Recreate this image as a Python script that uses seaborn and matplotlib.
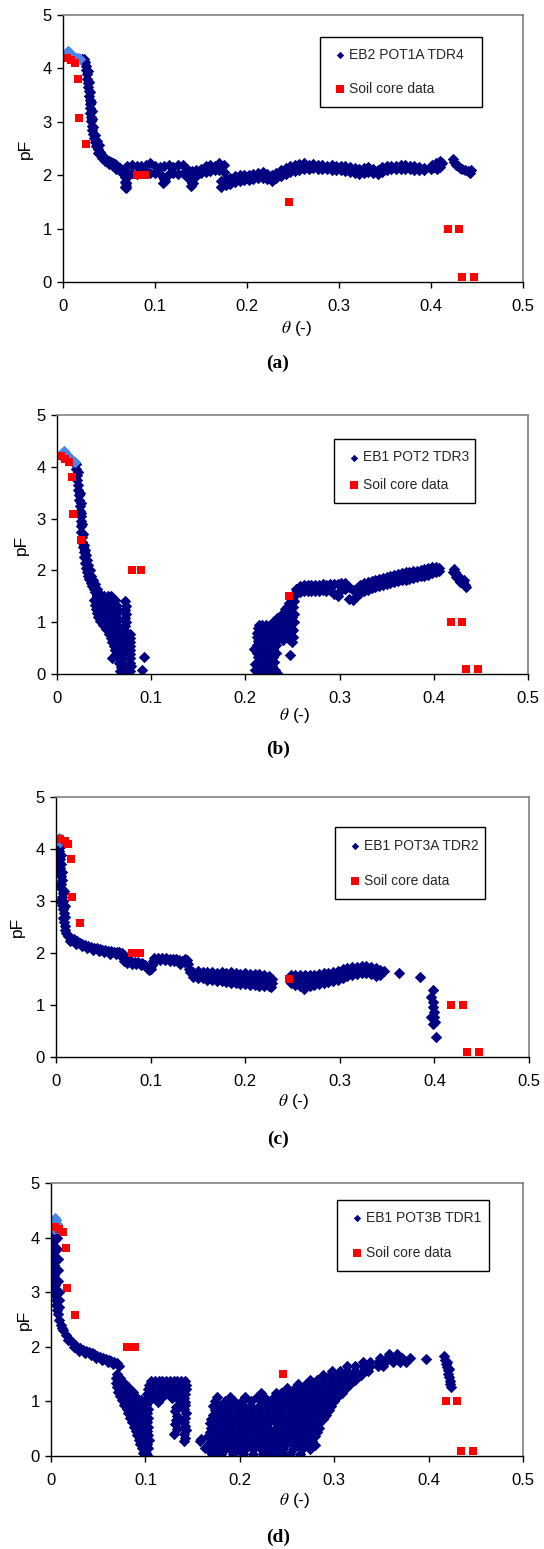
import matplotlib
matplotlib.use("Agg")
import matplotlib.pyplot as plt
import pandas as pd
import seaborn as sns

sns.set_theme(style="white")
plt.rcParams["font.family"] = ["Liberation Sans", "DejaVu Sans"]
plt.rcParams["mathtext.fontset"] = "stix"

# ---------------- shared values ----------------
x_ticks = [0, 0.1, 0.2, 0.3, 0.4, 0.5]
x_tick_labels = ["0", "0.1", "0.2", "0.3", "0.4", "0.5"]
y_ticks = [0, 1, 2, 3, 4, 5]
captions = ["(a)", "(b)", "(c)", "(d)"]
series_names = ["EB2 POT1A TDR4", "EB1 POT2 TDR3", "EB1 POT3A TDR2", "EB1 POT3B TDR1"]
soil_label = "Soil core data"

soil_theta = [0.004, 0.009, 0.013, 0.016, 0.017, 0.025, 0.080, 0.089, 0.246, 0.418, 0.430, 0.434, 0.447]
soil_pF = [4.20, 4.16, 4.10, 3.81, 3.08, 2.58, 2.00, 2.00, 1.50, 1.00, 1.00, 0.10, 0.10]

# ---------------- panel (a) ----------------
a_light = [(0.002, 4.25), (0.004, 4.30), (0.005, 4.33), (0.006, 4.31), (0.008, 4.27), (0.010, 4.24),
           (0.012, 4.22), (0.014, 4.20), (0.016, 4.19), (0.018, 4.18)]
a_knee = [(0.019, 4.17), (0.021, 4.18), (0.023, 4.17), (0.024, 4.12), (0.025, 4.05), (0.025, 3.97),
          (0.026, 3.89), (0.026, 3.81), (0.027, 3.73), (0.027, 3.65), (0.028, 3.57), (0.028, 3.49),
          (0.029, 3.41), (0.029, 3.33), (0.029, 3.25), (0.029, 3.17), (0.030, 3.09), (0.030, 3.01),
          (0.031, 2.93), (0.032, 2.85), (0.033, 2.77), (0.034, 2.69), (0.035, 2.62), (0.036, 2.55),
          (0.038, 2.49), (0.040, 2.43), (0.042, 2.38), (0.044, 2.34), (0.046, 2.31), (0.048, 2.29),
          (0.050, 2.27), (0.052, 2.25), (0.054, 2.23), (0.056, 2.21), (0.058, 2.19), (0.060, 2.16),
          (0.062, 2.13), (0.064, 2.10), (0.066, 2.04), (0.067, 1.96), (0.067, 1.88), (0.068, 1.80),
          (0.069, 1.76), (0.069, 1.86), (0.070, 1.96),
          (0.027, 3.95), (0.028, 3.75), (0.029, 3.55), (0.030, 3.38), (0.031, 3.20), (0.032, 3.05),
          (0.033, 2.90), (0.035, 2.76), (0.037, 2.64), (0.039, 2.56), (0.038, 2.42), (0.042, 2.33),
          (0.046, 2.26), (0.050, 2.21), (0.054, 2.17), (0.058, 2.12), (0.062, 2.07),
          (0.067, 1.78), (0.068, 1.86), (0.109, 1.85), (0.111, 1.90), (0.139, 1.79), (0.141, 1.85)]
a_seg1_theta = [0.070, 0.075, 0.080, 0.085, 0.090, 0.095, 0.100, 0.105, 0.110, 0.115, 0.120,
                0.125, 0.130, 0.135, 0.140, 0.145, 0.150, 0.155, 0.160, 0.165, 0.170, 0.175]
a_seg1_top = [2.18, 2.20, 2.18, 2.17, 2.20, 2.22, 2.17, 2.15, 2.18, 2.20, 2.15,
              2.19, 2.20, 2.12, 2.08, 2.10, 2.12, 2.17, 2.20, 2.18, 2.22, 2.20]
a_seg1_bot = [2.06, 2.04, 2.02, 2.04, 2.06, 2.05, 2.04, 2.02, 1.92, 2.02, 2.04,
              2.02, 2.05, 1.96, 1.86, 1.98, 2.04, 2.06, 2.08, 2.09, 2.10, 2.06]
a_seg2_theta = [0.172, 0.177, 0.182, 0.187, 0.192, 0.197, 0.202, 0.207,
                0.212, 0.217, 0.222, 0.227, 0.232, 0.237, 0.242, 0.247]
a_seg2_top = [1.90, 1.93, 1.95, 1.98, 2.00, 2.01, 2.00, 2.03, 2.05, 2.06, 2.03, 2.01, 2.05, 2.10, 2.13, 2.17]
a_seg2_bot = [1.78, 1.81, 1.84, 1.87, 1.90, 1.91, 1.91, 1.93, 1.95, 1.95, 1.92, 1.90, 1.94, 1.98, 2.03, 2.06]
a_seg3_theta = [0.252, 0.257, 0.262, 0.267, 0.272, 0.277, 0.282, 0.287, 0.292, 0.297, 0.302, 0.307,
                0.312, 0.317, 0.322, 0.327, 0.332, 0.337, 0.342, 0.347, 0.352, 0.357, 0.362, 0.367,
                0.372, 0.377, 0.382, 0.387, 0.392]
a_seg3_top = [2.19, 2.21, 2.22, 2.20, 2.21, 2.19, 2.20, 2.18, 2.19, 2.17, 2.18, 2.17, 2.15, 2.13, 2.12,
              2.14, 2.15, 2.12, 2.10, 2.15, 2.17, 2.18, 2.18, 2.19, 2.20, 2.18, 2.18, 2.16, 2.14]
a_seg3_bot = [2.07, 2.09, 2.11, 2.12, 2.13, 2.12, 2.12, 2.11, 2.10, 2.10, 2.09, 2.08, 2.06, 2.05, 2.03,
              2.05, 2.06, 2.04, 2.02, 2.06, 2.10, 2.11, 2.12, 2.12, 2.12, 2.11, 2.10, 2.09, 2.09]
a_tail = [(0.400, 2.12), (0.401, 2.20), (0.403, 2.15), (0.405, 2.23), (0.406, 2.12), (0.408, 2.20),
          (0.410, 2.27), (0.410, 2.15), (0.412, 2.22), (0.424, 2.30), (0.425, 2.25), (0.427, 2.20),
          (0.429, 2.17), (0.431, 2.14), (0.434, 2.12), (0.437, 2.10), (0.440, 2.07), (0.442, 2.05),
          (0.443, 2.09)]

# ---------------- panel (b) ----------------
b_light = [(0.003, 4.22), (0.005, 4.27), (0.007, 4.30), (0.009, 4.27), (0.011, 4.22), (0.013, 4.18),
           (0.015, 4.15), (0.017, 4.12), (0.019, 4.10)]
b_drop = [(0.018, 4.08), (0.020, 4.05), (0.020, 3.95), (0.021, 3.85), (0.021, 3.75), (0.022, 3.65),
          (0.022, 3.55), (0.023, 3.45), (0.023, 3.35), (0.024, 3.25), (0.024, 3.15), (0.025, 3.05),
          (0.025, 2.95), (0.026, 2.85), (0.026, 2.75), (0.027, 2.65), (0.027, 2.55), (0.028, 2.45),
          (0.029, 2.35), (0.029, 2.25), (0.030, 2.15), (0.031, 2.05), (0.032, 1.97), (0.033, 1.90),
          (0.034, 1.83), (0.036, 1.76), (0.037, 1.70), (0.039, 1.64), (0.040, 1.58), (0.042, 1.52),
          (0.022, 3.90), (0.024, 3.50), (0.025, 3.30), (0.026, 3.10), (0.027, 2.90), (0.028, 2.70),
          (0.029, 2.50), (0.030, 2.40), (0.031, 2.30), (0.032, 2.20), (0.033, 2.10), (0.035, 2.00),
          (0.036, 1.90), (0.038, 1.82), (0.040, 1.74), (0.042, 1.65), (0.044, 1.58)]
b_blob_pF = [1.50, 1.42, 1.34, 1.26, 1.18, 1.10, 1.02, 0.94, 0.86, 0.78, 0.70, 0.62, 0.54, 0.46,
             0.38, 0.30, 0.22, 0.14, 0.05]
b_blob_theta = [
    [0.042, 0.046, 0.050, 0.054, 0.057],
    [0.039, 0.043, 0.047, 0.051, 0.055, 0.059, 0.062],
    [0.040, 0.044, 0.048, 0.052, 0.056, 0.060, 0.063],
    [0.041, 0.045, 0.049, 0.053, 0.057, 0.061, 0.064],
    [0.042, 0.046, 0.050, 0.054, 0.058, 0.062, 0.064],
    [0.044, 0.048, 0.052, 0.056, 0.060, 0.063],
    [0.046, 0.050, 0.054, 0.058, 0.062, 0.064],
    [0.049, 0.053, 0.057, 0.061, 0.064],
    [0.052, 0.056, 0.060, 0.063],
    [0.055, 0.059, 0.063, 0.066],
    [0.057, 0.061, 0.065, 0.068],
    [0.058, 0.062, 0.066, 0.069],
    [0.060, 0.064, 0.068],
    [0.062, 0.066, 0.069],
    [0.063, 0.067],
    [0.058, 0.065, 0.068],
    [0.066, 0.069],
    [0.068],
    [0.067]]
b_cols = [(0.072, 1.40), (0.073, 1.32), (0.072, 1.24), (0.073, 1.16), (0.072, 1.08), (0.073, 1.00),
          (0.072, 0.92), (0.071, 0.84), (0.072, 0.76), (0.071, 0.68), (0.072, 0.60), (0.071, 0.50),
          (0.070, 0.40), (0.070, 0.30), (0.069, 0.20), (0.070, 0.10), (0.069, 0.02),
          (0.078, 0.78), (0.078, 0.70), (0.078, 0.62), (0.077, 0.54), (0.078, 0.46), (0.078, 0.38),
          (0.077, 0.30), (0.078, 0.22), (0.079, 0.15), (0.078, 0.06),
          (0.092, 0.33), (0.090, 0.08), (0.066, 0.32)]
b_cloud_pF = [0.95, 0.88, 0.80, 0.72, 0.64, 0.56, 0.48, 0.40, 0.32, 0.24, 0.16, 0.08, 0.02]
b_cloud_theta = [
    [0.214, 0.218, 0.222, 0.226],
    [0.213, 0.217, 0.221, 0.225, 0.229, 0.233],
    [0.212, 0.216, 0.220, 0.224, 0.228, 0.232, 0.236],
    [0.212, 0.216, 0.220, 0.224, 0.228, 0.232, 0.236],
    [0.213, 0.217, 0.221, 0.225, 0.229, 0.233],
    [0.212, 0.216, 0.220, 0.224, 0.228, 0.232],
    [0.213, 0.217, 0.221, 0.225, 0.229],
    [0.212, 0.216, 0.220, 0.224, 0.228, 0.232],
    [0.213, 0.217, 0.221, 0.225, 0.229],
    [0.214, 0.218, 0.222, 0.226, 0.230],
    [0.212, 0.216, 0.220, 0.224, 0.228],
    [0.213, 0.218, 0.222, 0.227, 0.231],
    [0.220, 0.226, 0.234]]
b_band = [(0.209, 0.49), (0.210, 0.20), (0.210, 0.07), (0.230, 1.02), (0.234, 1.08), (0.238, 1.12),
          (0.240, 1.18), (0.242, 1.25), (0.244, 1.30), (0.246, 1.38), (0.248, 1.45), (0.250, 1.52),
          (0.248, 1.20), (0.251, 1.30), (0.252, 1.40), (0.245, 1.10), (0.249, 1.10), (0.252, 1.15),
          (0.245, 1.00), (0.249, 0.98), (0.252, 1.00), (0.244, 0.90), (0.248, 0.88), (0.251, 0.85),
          (0.243, 0.80), (0.247, 0.78), (0.250, 0.72), (0.246, 0.68), (0.249, 0.62), (0.247, 0.36),
          (0.238, 0.95), (0.240, 0.85), (0.239, 1.02), (0.241, 0.75), (0.240, 0.65)]
b_rib_theta = [0.254, 0.258, 0.262, 0.266, 0.270, 0.274, 0.278, 0.282, 0.286, 0.290, 0.294, 0.298,
               0.302, 0.306, 0.310, 0.314, 0.318, 0.322, 0.326, 0.330, 0.334, 0.338, 0.342, 0.346,
               0.350, 0.354, 0.358, 0.362, 0.366, 0.370, 0.374, 0.378, 0.382, 0.386, 0.390, 0.394,
               0.398, 0.402, 0.405]
b_rib_top = [1.65, 1.70, 1.72, 1.71, 1.72, 1.71, 1.72, 1.73, 1.72, 1.74, 1.73, 1.74, 1.75, 1.76, 1.68,
             1.62, 1.66, 1.72, 1.76, 1.78, 1.80, 1.82, 1.84, 1.86, 1.88, 1.90, 1.92, 1.94, 1.95, 1.96,
             1.97, 1.98, 1.99, 2.00, 2.02, 2.04, 2.06, 2.07, 2.05]
b_rib_bot = [1.55, 1.58, 1.60, 1.60, 1.61, 1.60, 1.61, 1.62, 1.60, 1.62, 1.55, 1.50, 1.63, 1.64, 1.44,
             1.42, 1.50, 1.56, 1.60, 1.63, 1.66, 1.68, 1.70, 1.72, 1.74, 1.76, 1.78, 1.80, 1.81, 1.82,
             1.84, 1.86, 1.87, 1.89, 1.90, 1.92, 1.95, 1.97, 1.99]
b_blob2 = [(0.420, 1.97), (0.421, 2.02), (0.423, 1.97), (0.424, 1.88), (0.425, 1.92), (0.427, 1.87),
           (0.428, 1.78), (0.429, 1.82), (0.431, 1.77), (0.432, 1.82), (0.433, 1.72), (0.434, 1.68)]

# ---------------- panel (c) ----------------
c_light = [(0.001, 4.17), (0.003, 4.22), (0.005, 4.20), (0.004, 4.14)]
c_drop = [(0.003, 4.12), (0.004, 4.04), (0.003, 3.96), (0.005, 3.88), (0.004, 3.80), (0.005, 3.72),
          (0.004, 3.64), (0.006, 3.56), (0.005, 3.48), (0.006, 3.40), (0.005, 3.32), (0.006, 3.24),
          (0.007, 3.16), (0.006, 3.08), (0.007, 3.00), (0.006, 2.92), (0.007, 2.84), (0.008, 2.76),
          (0.007, 2.68), (0.008, 2.60), (0.009, 2.52), (0.010, 2.45), (0.011, 2.39), (0.002, 3.70),
          (0.002, 3.60), (0.008, 3.20), (0.009, 2.90), (0.009, 2.70), (0.003, 3.30), (0.004, 3.00),
          (0.013, 2.33), (0.016, 2.29), (0.019, 2.26), (0.022, 2.23), (0.025, 2.20), (0.028, 2.18),
          (0.031, 2.16), (0.034, 2.14), (0.037, 2.12), (0.040, 2.10), (0.043, 2.09), (0.046, 2.07),
          (0.049, 2.06), (0.052, 2.05), (0.055, 2.04), (0.058, 2.03), (0.061, 2.02), (0.064, 2.02),
          (0.067, 2.01), (0.070, 2.00), (0.072, 1.96),
          (0.015, 2.24), (0.021, 2.18), (0.027, 2.13), (0.033, 2.09), (0.039, 2.06), (0.045, 2.03),
          (0.051, 2.01), (0.057, 1.99), (0.063, 1.98), (0.069, 1.96)]
c_step = [(0.071, 1.90), (0.072, 1.84), (0.075, 1.86), (0.079, 1.84), (0.083, 1.83), (0.087, 1.82),
          (0.091, 1.80), (0.094, 1.77), (0.096, 1.72), (0.098, 1.68), (0.100, 1.70), (0.102, 1.76),
          (0.103, 1.84), (0.104, 1.90), (0.108, 1.90), (0.112, 1.90), (0.116, 1.90), (0.120, 1.89),
          (0.124, 1.89), (0.127, 1.88), (0.130, 1.86), (0.131, 1.78), (0.133, 1.85), (0.136, 1.88),
          (0.139, 1.86), (0.140, 1.78), (0.141, 1.70), (0.142, 1.64),
          (0.075, 1.80), (0.080, 1.79), (0.085, 1.78), (0.090, 1.76), (0.105, 1.85), (0.110, 1.86),
          (0.115, 1.86), (0.120, 1.85), (0.125, 1.84), (0.135, 1.82)]
c_seg1_theta = [0.145, 0.150, 0.155, 0.160, 0.165, 0.170, 0.175, 0.180, 0.185, 0.190, 0.195, 0.200,
                0.205, 0.210, 0.215, 0.220, 0.225]
c_seg1_top = [1.64, 1.65, 1.64, 1.64, 1.63, 1.62, 1.63, 1.62, 1.63, 1.61, 1.60, 1.61, 1.60, 1.59, 1.60, 1.58, 1.56]
c_seg1_mid = [1.59, 1.58, 1.57, 1.56, 1.55, 1.54, 1.54, 1.53, 1.52, 1.51, 1.50, 1.50, 1.49, 1.48, 1.48, 1.47, 1.46]
c_seg1_bot = [1.54, 1.52, 1.51, 1.49, 1.48, 1.46, 1.46, 1.44, 1.43, 1.42, 1.40, 1.41, 1.39, 1.38, 1.37, 1.36, 1.37]
c_seg2_theta = [0.248, 0.253, 0.258, 0.263, 0.268, 0.273, 0.278, 0.283, 0.288, 0.293, 0.298, 0.303,
                0.308, 0.313, 0.318, 0.323, 0.328, 0.333, 0.338, 0.343]
c_seg2_top = [1.58, 1.58, 1.57, 1.57, 1.58, 1.58, 1.60, 1.61, 1.62, 1.64, 1.66, 1.69, 1.71, 1.73,
              1.74, 1.75, 1.75, 1.74, 1.72, 1.68]
c_seg2_mid = [1.50, 1.49, 1.47, 1.46, 1.47, 1.48, 1.50, 1.52, 1.53, 1.55, 1.57, 1.60, 1.63, 1.65,
              1.67, 1.68, 1.68, 1.67, 1.64, 1.62]
c_seg2_bot = [1.42, 1.39, 1.36, 1.34, 1.37, 1.38, 1.40, 1.42, 1.44, 1.46, 1.48, 1.52, 1.55, 1.58,
              1.60, 1.61, 1.61, 1.59, 1.55, 1.58]
c_sparse = [(0.228, 1.50), (0.228, 1.42), (0.227, 1.35), (0.347, 1.65), (0.262, 1.31), (0.363, 1.62),
            (0.385, 1.54), (0.398, 1.28), (0.396, 1.15), (0.398, 1.06), (0.399, 0.96), (0.400, 0.87),
            (0.396, 0.77), (0.400, 0.77), (0.398, 0.64), (0.401, 0.67), (0.402, 0.38)]

# ---------------- panel (d) ----------------
d_light = [(0.002, 4.22), (0.003, 4.30), (0.004, 4.36), (0.005, 4.32), (0.006, 4.24), (0.003, 4.15),
           (0.005, 4.18)]
d_drop = [(0.003, 4.12), (0.003, 4.03), (0.002, 3.94), (0.003, 3.85), (0.003, 3.76), (0.002, 3.67),
          (0.003, 3.58), (0.003, 3.49), (0.002, 3.40), (0.003, 3.31), (0.003, 3.22), (0.004, 3.13),
          (0.004, 3.04), (0.004, 2.95), (0.005, 2.86), (0.005, 2.77), (0.006, 2.68), (0.007, 2.60),
          (0.006, 4.00), (0.006, 3.80), (0.007, 3.60), (0.007, 3.40), (0.007, 3.20), (0.008, 3.00),
          (0.008, 2.85), (0.009, 2.72),
          (0.009, 2.50), (0.011, 2.40), (0.013, 2.30), (0.016, 2.22), (0.019, 2.15), (0.022, 2.09),
          (0.025, 2.04), (0.028, 2.00), (0.031, 1.97), (0.034, 1.94), (0.037, 1.92), (0.040, 1.90),
          (0.043, 1.88), (0.046, 1.86), (0.049, 1.84), (0.052, 1.82), (0.055, 1.80), (0.058, 1.78),
          (0.061, 1.76), (0.064, 1.74), (0.067, 1.73), (0.070, 1.71), (0.072, 1.64),
          (0.012, 2.35), (0.018, 2.12), (0.024, 2.00), (0.030, 1.93), (0.036, 1.88), (0.042, 1.85),
          (0.048, 1.80), (0.054, 1.76), (0.060, 1.72), (0.066, 1.69)]
d_wedge_pF = [1.50, 1.42, 1.34, 1.26, 1.18, 1.10, 1.02, 0.94, 0.86, 0.78, 0.70, 0.62, 0.54, 0.46,
              0.38, 0.30, 0.22, 0.14, 0.06, 0.00]
d_wedge_theta = [
    [0.070],
    [0.069, 0.073],
    [0.069, 0.073, 0.077],
    [0.070, 0.074, 0.078, 0.082],
    [0.071, 0.075, 0.079, 0.083, 0.087],
    [0.073, 0.077, 0.081, 0.085, 0.089],
    [0.075, 0.079, 0.083, 0.087, 0.091, 0.095],
    [0.077, 0.081, 0.085, 0.089, 0.093, 0.097, 0.101],
    [0.080, 0.084, 0.088, 0.092, 0.096, 0.100, 0.103],
    [0.082, 0.086, 0.090, 0.094, 0.098, 0.102],
    [0.084, 0.088, 0.092, 0.096, 0.100, 0.103],
    [0.086, 0.090, 0.094, 0.098, 0.102],
    [0.088, 0.092, 0.096, 0.100, 0.103],
    [0.090, 0.094, 0.098, 0.102],
    [0.091, 0.095, 0.099, 0.103],
    [0.093, 0.097, 0.101, 0.104],
    [0.094, 0.098, 0.102],
    [0.096, 0.100, 0.103],
    [0.097, 0.101],
    [0.100, 0.103]]
d_hump_pF = [1.38, 1.30, 1.22, 1.14, 1.06, 0.98]
d_hump_theta = [
    [0.106, 0.110, 0.114, 0.118, 0.122, 0.126, 0.130, 0.134, 0.138, 0.142],
    [0.104, 0.108, 0.112, 0.116, 0.120, 0.124, 0.128, 0.132, 0.136, 0.140, 0.143],
    [0.103, 0.107, 0.111, 0.115, 0.119, 0.123, 0.127, 0.131, 0.135, 0.139, 0.143],
    [0.102, 0.106, 0.110, 0.115, 0.121, 0.126, 0.130, 0.134, 0.138, 0.142],
    [0.102, 0.106, 0.111, 0.117, 0.128, 0.133, 0.137, 0.141],
    [0.103, 0.113, 0.138, 0.142]]
d_strings = [(0.132, 0.90), (0.131, 0.82), (0.133, 0.74), (0.132, 0.66), (0.131, 0.58), (0.133, 0.50),
             (0.130, 0.41), (0.142, 0.94), (0.141, 0.86), (0.143, 0.78), (0.142, 0.70), (0.141, 0.62),
             (0.142, 0.55), (0.143, 0.47), (0.141, 0.40), (0.142, 0.33), (0.141, 0.27),
             (0.159, 0.32), (0.163, 0.15), (0.168, 0.09), (0.171, 0.03)]
d_cloud_pF = [0.04, 0.12, 0.20, 0.28, 0.36, 0.44, 0.52, 0.60, 0.68, 0.76, 0.84, 0.92, 1.00, 1.08,
              1.16, 1.24, 1.32, 1.40, 1.48, 1.56, 1.64, 1.72, 1.80, 1.86]
d_cloud_theta = [
    [0.172, 0.180, 0.193, 0.203, 0.214, 0.225, 0.232, 0.239, 0.247, 0.253, 0.264],
    [0.168, 0.176, 0.184, 0.190, 0.198, 0.206, 0.214, 0.222, 0.230, 0.238, 0.246, 0.256, 0.266, 0.274],
    [0.166, 0.172, 0.178, 0.186, 0.194, 0.200, 0.208, 0.216, 0.224, 0.232, 0.240, 0.248, 0.256, 0.264, 0.272, 0.280],
    [0.158, 0.170, 0.176, 0.182, 0.190, 0.198, 0.206, 0.212, 0.220, 0.228, 0.236, 0.244, 0.252, 0.260, 0.268, 0.276],
    [0.166, 0.174, 0.180, 0.188, 0.194, 0.202, 0.210, 0.218, 0.224, 0.232, 0.240, 0.248, 0.256, 0.264, 0.272, 0.280],
    [0.168, 0.174, 0.182, 0.190, 0.196, 0.204, 0.212, 0.220, 0.228, 0.236, 0.244, 0.252, 0.260, 0.266, 0.274, 0.282],
    [0.170, 0.178, 0.186, 0.192, 0.200, 0.208, 0.216, 0.222, 0.230, 0.238, 0.246, 0.254, 0.262, 0.270, 0.278, 0.284],
    [0.168, 0.176, 0.184, 0.190, 0.198, 0.206, 0.214, 0.222, 0.230, 0.238, 0.246, 0.252, 0.260, 0.268, 0.276, 0.284],
    [0.170, 0.178, 0.186, 0.194, 0.202, 0.210, 0.218, 0.226, 0.234, 0.242, 0.250, 0.258, 0.266, 0.274, 0.282, 0.288],
    [0.172, 0.180, 0.188, 0.196, 0.204, 0.212, 0.220, 0.228, 0.236, 0.244, 0.252, 0.260, 0.268, 0.276, 0.284, 0.291],
    [0.174, 0.182, 0.190, 0.198, 0.206, 0.214, 0.222, 0.230, 0.238, 0.246, 0.254, 0.262, 0.270, 0.278, 0.286, 0.294],
    [0.172, 0.180, 0.188, 0.196, 0.204, 0.212, 0.220, 0.228, 0.236, 0.244, 0.252, 0.260, 0.268, 0.276, 0.284, 0.292, 0.297],
    [0.174, 0.184, 0.194, 0.202, 0.212, 0.222, 0.230, 0.240, 0.248, 0.256, 0.264, 0.272, 0.280, 0.288, 0.296, 0.300],
    [0.176, 0.190, 0.205, 0.218, 0.226, 0.236, 0.246, 0.254, 0.262, 0.270, 0.278, 0.286, 0.294, 0.303],
    [0.222, 0.238, 0.244, 0.252, 0.260, 0.268, 0.276, 0.284, 0.292, 0.300, 0.308],
    [0.250, 0.258, 0.266, 0.274, 0.282, 0.290, 0.298, 0.306, 0.312],
    [0.262, 0.270, 0.278, 0.286, 0.294, 0.302, 0.310, 0.317],
    [0.274, 0.282, 0.290, 0.298, 0.306, 0.314, 0.322],
    [0.288, 0.296, 0.304, 0.312, 0.320, 0.328],
    [0.298, 0.306, 0.314, 0.322, 0.330, 0.336],
    [0.314, 0.322, 0.330, 0.338, 0.346, 0.352],
    [0.330, 0.338, 0.346, 0.354, 0.362, 0.370, 0.376],
    [0.348, 0.356, 0.364, 0.372, 0.380],
    [0.358, 0.366]]
d_far = [(0.397, 1.77), (0.4166, 1.83), (0.4175, 1.75), (0.418, 1.68), (0.419, 1.63), (0.421, 1.57),
         (0.421, 1.50), (0.422, 1.44), (0.423, 1.38), (0.423, 1.32), (0.424, 1.27), (0.419, 1.72),
         (0.422, 1.60)]


# ---------------- helpers ----------------
def from_pairs(*pair_lists):
    rows = [p for pl in pair_lists for p in pl]
    return pd.DataFrame(rows, columns=["theta", "pF"])


def from_rows(theta, *pf_rows):
    return [(t, v) for r in pf_rows for t, v in zip(theta, r)]


def from_levels(levels, theta_rows):
    return [(t, lv) for lv, row in zip(levels, theta_rows) for t in row]


tdr = [
    from_pairs(a_knee, from_rows(a_seg1_theta, a_seg1_top, a_seg1_bot),
               from_rows(a_seg2_theta, a_seg2_top, a_seg2_bot),
               from_rows(a_seg3_theta, a_seg3_top, a_seg3_bot), a_tail),
    from_pairs(b_drop, from_levels(b_blob_pF, b_blob_theta), b_cols,
               from_levels(b_cloud_pF, b_cloud_theta), b_band,
               from_rows(b_rib_theta, b_rib_top, b_rib_bot), b_blob2),
    from_pairs(c_drop, c_step, from_rows(c_seg1_theta, c_seg1_top, c_seg1_mid, c_seg1_bot),
               from_rows(c_seg2_theta, c_seg2_top, c_seg2_mid, c_seg2_bot), c_sparse),
    from_pairs(d_drop, from_levels(d_wedge_pF, d_wedge_theta), from_levels(d_hump_pF, d_hump_theta),
               d_strings, from_levels(d_cloud_pF, d_cloud_theta), d_far),
]
light = [from_pairs(a_light), from_pairs(b_light), from_pairs(c_light), from_pairs(d_light)]
soil = pd.DataFrame({"theta": soil_theta, "pF": soil_pF})

# ---------------- layout ----------------
W, H = 544, 1549
axes_px = [(63, 15, 460, 267), (57, 415, 471, 259), (56, 797, 473, 260), (51, 1183, 472, 273)]
legend_box = [(0.558, 0.918, 0.352), (0.588, 0.907, 0.300), (0.590, 0.883, 0.317), (0.606, 0.939, 0.322)]
legend_spacing = [1.45, 1.0, 1.55, 1.5]
ylabel_x = [-0.081, -0.076, -0.081, -0.057]
xlabel_xy = [(0.508, -0.174), (0.505, -0.160), (0.503, -0.173), (0.516, -0.163)]
caption_y = [363, 749, 1139, 1537]

NAVY = "#000080"
LIGHT = "#4A86E8"
RED = "#FF0000"

fig = plt.figure(figsize=(W / 100, H / 100), dpi=100)
fig.patch.set_facecolor("white")

for i in range(4):
    l, t, w, h = axes_px[i]
    ax = fig.add_axes([l / W, (H - t - h) / H, w / W, h / H])
    ax.set_facecolor("white")
    sns.scatterplot(data=tdr[i], x="theta", y="pF", marker="D", s=34, color=NAVY,
                    linewidth=0, ax=ax, label=series_names[i], legend=False)
    sns.scatterplot(data=light[i], x="theta", y="pF", marker="D", s=34, color=LIGHT,
                    linewidth=0, ax=ax, label="_nolegend_", legend=False)
    sns.scatterplot(data=soil, x="theta", y="pF", marker="s", s=28, color=RED,
                    linewidth=0, ax=ax, label=soil_label, legend=False)

    ax.set_xlim(0, 0.5)
    ax.set_ylim(0, 5)
    ax.set_xticks(x_ticks)
    ax.set_xticklabels(x_tick_labels)
    ax.set_yticks(y_ticks)
    ax.set_yticklabels([str(v) for v in y_ticks])
    ax.tick_params(axis="both", which="major", bottom=True, left=True, top=False, right=False,
                   direction="out", length=4, width=1, color="black", labelsize=12,
                   labelcolor="black")
    ax.tick_params(axis="x", pad=8.5)
    ax.tick_params(axis="y", pad=4)
    for side in ["left", "bottom"]:
        ax.spines[side].set_color("black")
        ax.spines[side].set_linewidth(1.0)
    for side in ["top", "right"]:
        ax.spines[side].set_color("#808080")
        ax.spines[side].set_linewidth(1.2)

    ax.set_xlabel(r"$\theta$ (-)", fontsize=12.5, color="black")
    ax.xaxis.set_label_coords(*xlabel_xy[i])
    ax.xaxis.label.set_va("center")
    ax.set_ylabel("pF", fontsize=12.5, color="black")
    ax.yaxis.set_label_coords(ylabel_x[i], 0.5)
    ax.yaxis.label.set_va("center")

    x0, ytop, bw = legend_box[i]
    leg = ax.legend(loc="upper left", bbox_to_anchor=(x0, ytop - 0.3, bw, 0.3), mode="expand",
                    borderaxespad=0, fontsize=10, frameon=True, fancybox=False, shadow=False,
                    handlelength=1.3, handletextpad=0.0, borderpad=0.8,
                    labelspacing=legend_spacing[i])
    leg.get_frame().set_edgecolor("black")
    leg.get_frame().set_linewidth(1.0)
    leg.get_frame().set_facecolor("white")
    leg.get_frame().set_alpha(1)
    handles = leg.legend_handles
    handles[0].set_sizes([14])
    handles[1].set_sizes([26])

    fig.text(278 / W, (H - caption_y[i]) / H, captions[i], ha="center", va="center",
             fontsize=14, fontweight="bold", family="Liberation Serif", color="black")

fig.savefig("out.png", dpi=100, facecolor="white")
